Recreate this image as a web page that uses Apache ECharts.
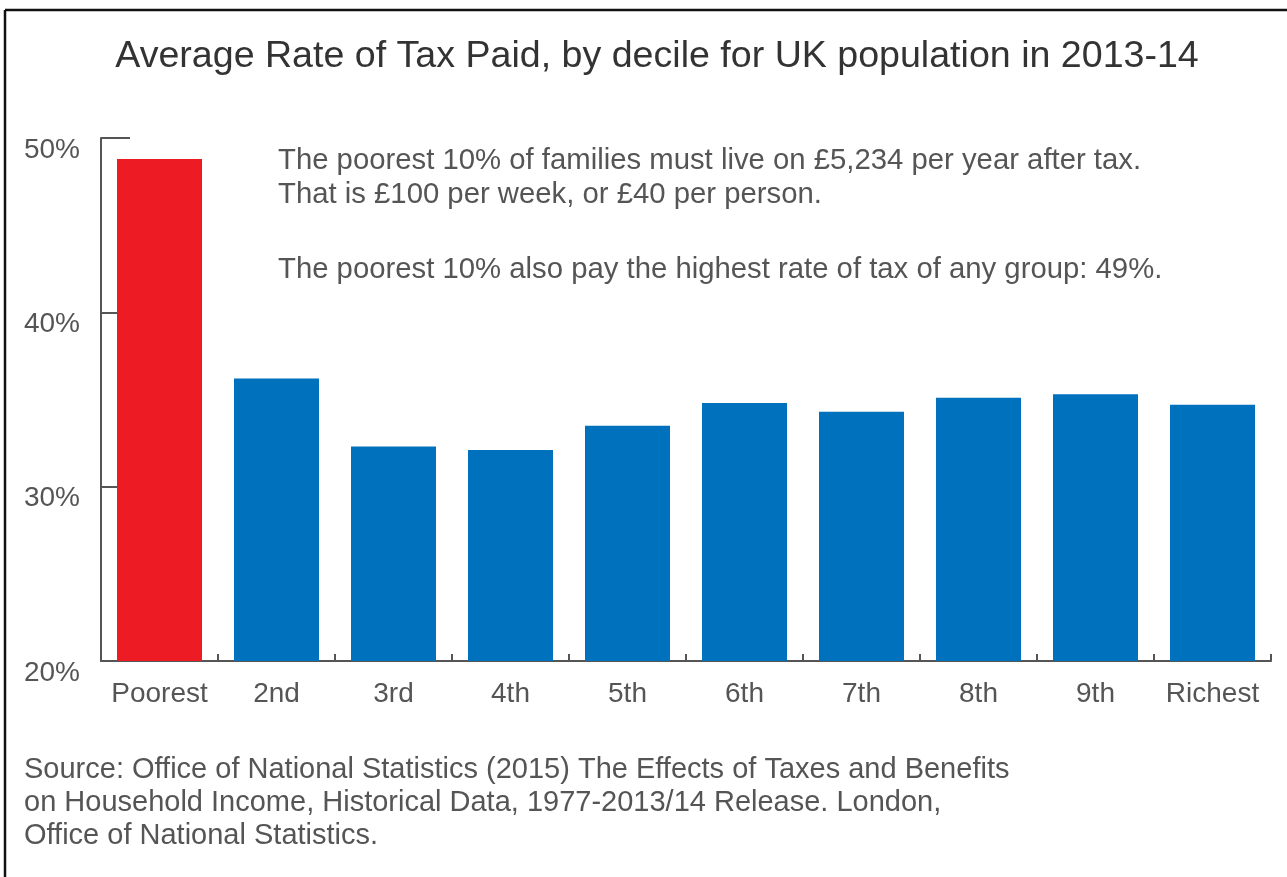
<!DOCTYPE html>
<html>
<head>
<meta charset="utf-8">
<script src="https://cdn.jsdelivr.net/npm/echarts@6/dist/echarts.min.js"></script>
<style>
html,body{margin:0;padding:0;background:#fff;}
#chart{width:1287px;height:877px;}
</style>
</head>
<body>
<div id="chart"></div>
<script>
const categories = ['Poorest', '2nd', '3rd', '4th', '5th', '6th', '7th', '8th', '9th', 'Richest'];
const taxRates = [48.8, 36.2, 32.3, 32.1, 33.5, 34.8, 34.3, 35.1, 35.3, 34.7];
const barColors = ['#ED1C24', '#0071BC', '#0071BC', '#0071BC', '#0071BC', '#0071BC', '#0071BC', '#0071BC', '#0071BC', '#0071BC'];
const yTicks = { min: 20, max: 50, interval: 10 };
const titleText = 'Average Rate of Tax Paid, by decile for UK population in 2013-14';
const noteLines = [
  'The poorest 10% of families must live on £5,234 per year after tax.',
  'That is £100 per week, or £40 per person.',
  'The poorest 10% also pay the highest rate of tax of any group: 49%.'
];
const sourceLines = [
  'Source: Office of National Statistics (2015) The Effects of Taxes and Benefits',
  'on Household Income, Historical Data, 1977-2013/14 Release. London,',
  'Office of National Statistics.'
];

const FONT = '"Liberation Sans", Arial, Helvetica, sans-serif';
const chart = echarts.init(document.getElementById('chart'), null, { renderer: 'canvas' });

const noteY = [161, 195, 270];
const sourceY = [770, 803, 836];

const graphics = [
  { type: 'line', shape: { x1: 5, y1: 10, x2: 1287, y2: 10 }, style: { stroke: '#111', lineWidth: 2.5 }, z: 10 },
  { type: 'line', shape: { x1: 5, y1: 10, x2: 5, y2: 877 }, style: { stroke: '#111', lineWidth: 2.5 }, z: 10 },
  { type: 'text', x: 657, y: 57, style: { text: titleText, fill: '#333', font: '37.6px ' + FONT, textAlign: 'center', textVerticalAlign: 'middle' } }
];
noteLines.forEach((t, i) => graphics.push({ type: 'text', x: 278, y: noteY[i], style: { text: t, fill: '#555', font: '29.3px ' + FONT, textAlign: 'left', textVerticalAlign: 'middle' } }));
sourceLines.forEach((t, i) => graphics.push({ type: 'text', x: 24, y: sourceY[i], style: { text: t, fill: '#555', font: '29px ' + FONT, textAlign: 'left', textVerticalAlign: 'middle' } }));

chart.setOption({
  animation: false,
  backgroundColor: '#fff',
  grid: { left: 101, right: 16, top: 138, bottom: 216, containLabel: false },
  xAxis: {
    type: 'category',
    data: categories,
    axisLine: { lineStyle: { color: '#555', width: 2 } },
    axisTick: { show: true, inside: true, length: 7, interval: 0, lineStyle: { color: '#555', width: 2 } },
    axisLabel: { color: '#555', fontSize: 28, fontFamily: FONT, margin: 19, interval: 0 }
  },
  yAxis: {
    type: 'value',
    min: yTicks.min, max: yTicks.max, interval: yTicks.interval,
    splitLine: { show: false },
    axisLine: { show: true, lineStyle: { color: '#555', width: 2 } },
    axisTick: { show: true, inside: true, length: 29, lineStyle: { color: '#555', width: 2 } },
    axisLabel: { color: '#555', fontSize: 28, fontFamily: FONT, margin: 21, formatter: '{value}%', verticalAlign: 'top', padding: [-2, 0, 0, 0] }
  },
  series: [{
    type: 'bar',
    data: taxRates.map((v, i) => ({ value: v, itemStyle: { color: barColors[i] } })),
    barWidth: 85
  }],
  graphic: graphics
});
</script>
</body>
</html>
